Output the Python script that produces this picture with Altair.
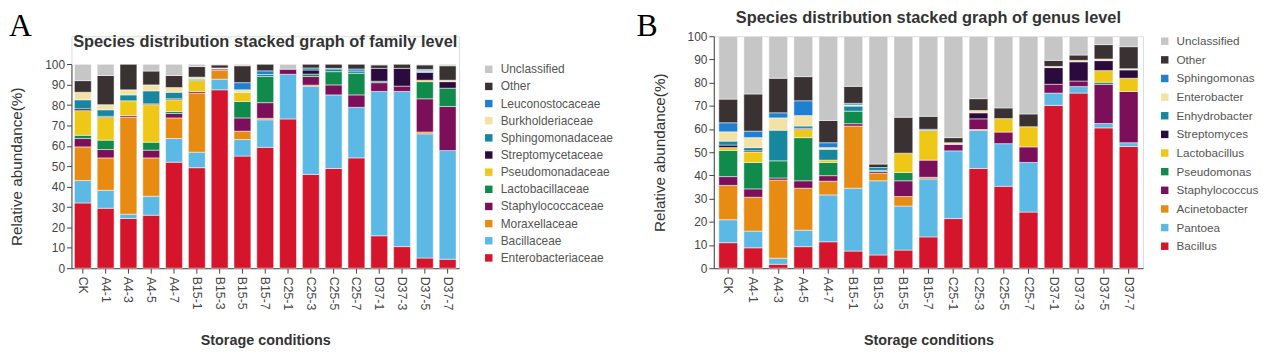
import altair as alt
import pandas as pd

samples = ["CK", "A4-1", "A4-3", "A4-5", "A4-7", "B15-1", "B15-3", "B15-5", "B15-7",
           "C25-1", "C25-3", "C25-5", "C25-7", "D37-1", "D37-3", "D37-5", "D37-7"]

# ---- Panel A: family level (stack order bottom -> top) ----
enterobacteriaceae = [32, 29.4, 24.4, 26, 52, 49.3, 87.5, 55, 59.3, 73.2, 46, 48.9, 54.1, 15.9, 10.6, 5, 4.4]
bacillaceae = [11, 8.8, 2.1, 9.3, 11.6, 7.6, 5.2, 8.1, 13.5, 21.9, 43.2, 36.1, 24.8, 70.8, 76.1, 60.9, 53.3]
moraxellaceae = [16.5, 15.9, 47.5, 18.8, 10.1, 29, 4.4, 4.1, 0.7, 0, 0.6, 0, 0, 0, 0, 0.9, 0]
staphylococcaceae = [4.1, 4.1, 0.8, 3.8, 2.2, 0.8, 0.6, 6.5, 7.7, 2.5, 4.2, 4.9, 6.1, 4.3, 2.6, 16.3, 21.6]
lactobacillaceae = [1.6, 4.6, 0, 3.9, 1, 0, 0, 8.1, 12.8, 0, 1.2, 6.5, 10.6, 0.7, 0, 8.4, 9]
pseudomonadaceae = [12.1, 11.2, 7.3, 18.4, 5.7, 5.3, 0, 4.4, 0, 0, 0, 0, 0, 0, 0, 0.7, 0]
streptomycetaceae = [0.9, 0.5, 0, 0.4, 0.5, 0, 0, 0, 0, 0, 2, 0, 0, 6.3, 8.7, 3.8, 3.2]
sphingomonadaceae = [4.4, 3.2, 2.9, 6.4, 3.2, 0.7, 0, 0, 1, 0, 1, 1.3, 1.1, 0, 0, 0.6, 0]
burkholderiaceae = [3.7, 2.5, 2.5, 2.9, 2.3, 1, 0.5, 1.3, 0, 0, 0, 0, 0, 0, 0, 0.3, 0.7]
leuconostocaceae = [0, 0, 0, 0, 0, 0, 0, 3.5, 1.8, 0, 0, 0.3, 1, 0, 0, 0.6, 0]
other_fam = [5.7, 14.3, 12.5, 6.8, 5.9, 5.2, 1.5, 8.3, 3.2, 0, 1.8, 2, 2.3, 1.7, 2, 2.2, 7.1]
unclassified_fam = [8, 5.5, 0, 3.3, 5.5, 1.1, 0.3, 0.7, 0, 2.4, 0, 0, 0, 0.3, 0, 0.3, 0.7]

fam_names = ["Enterobacteriaceae", "Bacillaceae", "Moraxellaceae", "Staphylococcaceae",
             "Lactobacillaceae", "Pseudomonadaceae", "Streptomycetaceae", "Sphingomonadaceae",
             "Burkholderiaceae", "Leuconostocaceae", "Other", "Unclassified"]
fam_lists = [enterobacteriaceae, bacillaceae, moraxellaceae, staphylococcaceae, lactobacillaceae,
             pseudomonadaceae, streptomycetaceae, sphingomonadaceae, burkholderiaceae,
             leuconostocaceae, other_fam, unclassified_fam]

# ---- Panel B: genus level (stack order bottom -> top) ----
bacillus = [11, 8.8, 1.7, 9.3, 11.4, 7.4, 5.7, 7.8, 13.5, 21.4, 43, 35.3, 24.2, 70.2, 75.5, 60.5, 52.5]
pantoea = [9.9, 7.2, 2.6, 7.1, 20.2, 27.1, 32, 19, 25, 29.2, 16.4, 18.4, 21.4, 5.3, 2.8, 1.9, 1.6]
acinetobacter = [14.8, 14.6, 33.7, 18.1, 5.9, 26.8, 3.3, 4.1, 0.7, 0, 0.4, 0, 0, 0, 0, 0, 0]
staphylococcus = [3.8, 3.6, 0.9, 3.2, 2.4, 1, 0.7, 6.8, 7.4, 2.8, 4.6, 5, 6.7, 3.8, 2.4, 16.9, 22.1]
pseudomonas = [11.3, 11.4, 7.4, 18.6, 5.7, 5.4, 0.5, 3.6, 0, 0, 0, 0, 0, 0, 0, 0.9, 0]
lactobacillus = [1.2, 4.5, 0, 3.5, 1, 0, 0, 8.3, 12.8, 0, 0, 5.8, 8.7, 0, 0, 5, 5.7]
streptomyces = [1.1, 0.5, 0, 0.5, 0, 0, 0, 0, 0, 0, 2.6, 0, 0, 7.2, 8.3, 4.3, 3.6]
enhydrobacter = [1.7, 1.4, 13.2, 1, 4.7, 2.2, 1.2, 0, 0, 0, 0, 0, 0, 0, 0, 0, 0]
enterobacter = [4, 4.3, 5.3, 4.5, 0.7, 0.5, 0, 0, 0, 0.7, 1, 0, 0, 0.5, 0.6, 0.7, 0.5]
sphingomonas = [3.9, 2.8, 2.2, 6.4, 2.1, 0.7, 0, 0, 0.5, 0, 0, 0, 0, 0, 0, 0, 0]
other_gen = [10.2, 16, 14.9, 10.4, 9.6, 7.3, 1.5, 15.5, 5.6, 2.2, 5.1, 4.6, 5.5, 2.6, 2.3, 6.2, 9.5]
unclassified_gen = [27.1, 24.9, 18.1, 17.4, 36.3, 21.6, 55.1, 34.9, 34.5, 43.7, 26.9, 30.9, 33.5, 10.4, 8.1, 3.6, 4.5]

gen_names = ["Bacillus", "Pantoea", "Acinetobacter", "Staphylococcus", "Pseudomonas",
             "Lactobacillus", "Streptomyces", "Enhydrobacter", "Enterobacter", "Sphingomonas",
             "Other", "Unclassified"]
gen_lists = [bacillus, pantoea, acinetobacter, staphylococcus, pseudomonas, lactobacillus,
             streptomyces, enhydrobacter, enterobacter, sphingomonas, other_gen, unclassified_gen]

# colours, bottom -> top (same palette for both panels)
palette = ["#d5152b", "#5cb9e6", "#e88b12", "#7c0f5a", "#108b4b", "#efc716",
           "#2b0a3d", "#17869f", "#f4e2a4", "#1f7fd0", "#3a3132", "#c6c6c6"]

FONT = "Liberation Sans"
H = 234


def long_df(names, lists):
    rows = []
    for rank, (name, vals) in enumerate(zip(names, lists)):
        for s, v in zip(samples, vals):
            if v > 0:
                rows.append({"sample": s, "taxon": name, "value": v, "rank": rank})
    return pd.DataFrame(rows)


def panel(names, lists, width, y_top, pad_in, pad_out, title, title_y, letter, letter_x,
          letter_y, leg_x, leg_y, row_pad, leg_font):
    df = long_df(names, lists)
    bars = alt.Chart(df).mark_bar(stroke="white", strokeWidth=0.5).encode(
        x=alt.X("sample:N", sort=samples,
                scale=alt.Scale(paddingInner=pad_in, paddingOuter=pad_out),
                axis=alt.Axis(title="Storage conditions", labelAngle=90, labelFontSize=12.5,
                              labelColor="#444", labelPadding=3, tickSize=5, tickColor="#444",
                              domainColor="#444", titleFontSize=14.5, titleFontWeight="bold",
                              titleColor="#333", titlePadding=24, labelFont=FONT, titleFont=FONT)),
        y=alt.Y("value:Q", stack="zero",
                scale=alt.Scale(domain=[0, 100], range=[H, y_top], nice=False),
                axis=alt.Axis(values=list(range(0, 101, 10)), title="Relative abundance(%)",
                              labelFontSize=12, labelColor="#444", tickSize=5, tickColor="#444",
                              domainColor="#444", labelPadding=2, grid=False,
                              titleFontSize=15.4, titleFontWeight="normal", titleColor="#333",
                              titlePadding=20, labelFont=FONT, titleFont=FONT)),
        color=alt.Color("taxon:N",
                        scale=alt.Scale(domain=names[::-1], range=palette[::-1]),
                        legend=alt.Legend(title=None, orient="none", legendX=leg_x, legendY=leg_y,
                                          symbolType="square", symbolSize=56, symbolStrokeWidth=0,
                                          labelFontSize=leg_font, labelColor="#555", labelFont=FONT,
                                          labelOffset=6, rowPadding=row_pad)),
        order=alt.Order("rank:Q", sort="ascending"),
    )
    ttl = alt.Chart(pd.DataFrame({"t": [title]})).mark_text(
        font=FONT, fontSize=16.5, fontWeight="bold", color="#333", align="center",
        baseline="alphabetic").encode(x=alt.value(width / 2), y=alt.value(title_y), text="t:N")
    let = alt.Chart(pd.DataFrame({"t": [letter]})).mark_text(
        font="Liberation Serif", fontSize=32, color="#000", align="left",
        baseline="alphabetic").encode(x=alt.value(letter_x), y=alt.value(letter_y), text="t:N")
    return alt.layer(bars, ttl, let).properties(width=width, height=H)


chart_a = panel(fam_names, fam_lists, 391, 28.3, 0.26, 0.13,
                "Species distribution stacked graph of family level", 10.6,
                "A", -63, -0.2, 415, 27.3, 5.3, 12.0)
chart_b = panel(gen_names, gen_lists, 433, 0, 0.25, 0.2,
                "Species distribution stacked graph of genus level", -13.2,
                "B", -78, -0.2, 449, -0.9, 5.8, 11.8)

chart = alt.hconcat(chart_a, chart_b, spacing=21).resolve_scale(
    color="independent", x="independent", y="independent"
).properties(padding=0).configure_view(strokeWidth=0).configure(font=FONT)

chart.save("out.html", embed_options={"renderer": "svg", "actions": False})
